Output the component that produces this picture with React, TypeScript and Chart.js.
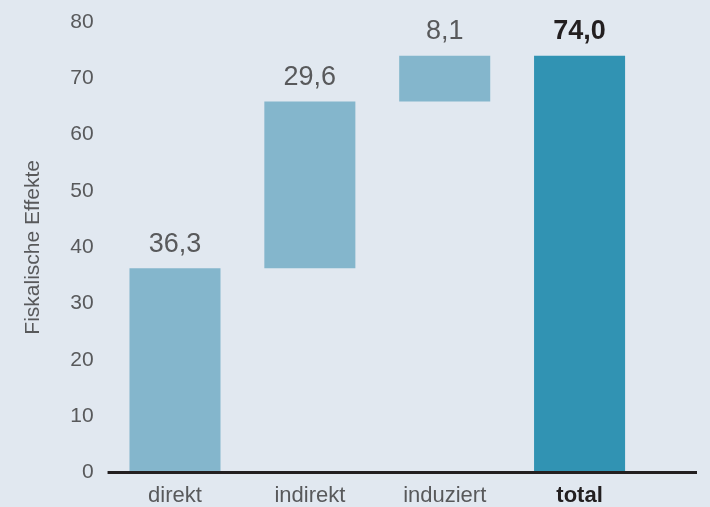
import React, { useEffect, useRef } from "react";
import { Chart, registerables } from "chart.js";

Chart.register(...registerables);

const categories = ["direkt", "indirekt", "induziert", "total"];
const starts = [0, 36.3, 65.9, 0];
const ends = [36.3, 65.9, 74.0, 74.0];
const valueLabels = ["36,3", "29,6", "8,1", "74,0"];
const yTicks = [0, 10, 20, 30, 40, 50, 60, 70, 80];

const FONT = "'Liberation Sans', Arial, Helvetica, sans-serif";

export default function App() {
  const ref = useRef<HTMLCanvasElement | null>(null);

  useEffect(() => {
    document.body.style.margin = "0";
    const canvas = ref.current;
    if (!canvas) return;

    const labelPlugin = {
      id: "valueLabels",
      afterDatasetsDraw(chart: any) {
        const { ctx } = chart;
        const meta = chart.getDatasetMeta(0);
        ctx.save();
        meta.data.forEach((bar: any, i: number) => {
          const isTotal = i === categories.length - 1;
          ctx.font = `${isTotal ? "bold " : ""}27px ${FONT}`;
          ctx.fillStyle = isTotal ? "#231f20" : "#58595b";
          ctx.textAlign = "center";
          ctx.textBaseline = "middle";
          const top = Math.min(bar.y, bar.base);
          ctx.fillText(valueLabels[i], bar.x, top - 24);
        });
        ctx.restore();
      },
    };

    const baselinePlugin = {
      id: "baseline",
      afterDraw(chart: any) {
        const { ctx, chartArea, scales } = chart;
        const y = scales.y.getPixelForValue(0);
        ctx.save();
        ctx.strokeStyle = "#231f20";
        ctx.lineWidth = 3;
        ctx.beginPath();
        ctx.moveTo(chartArea.left, y);
        ctx.lineTo(chartArea.right + 50, y);
        ctx.stroke();
        ctx.restore();
      },
    };

    const chart = new Chart(canvas, {
      type: "bar",
      data: {
        labels: categories,
        datasets: [
          {
            data: categories.map((_, i) => [starts[i], ends[i]]) as any,
            backgroundColor: categories.map((_, i) =>
              i === categories.length - 1 ? "#3193b3" : "#84b6cc"
            ),
            borderWidth: 0,
            barPercentage: 0.675,
            categoryPercentage: 1,
          },
        ],
      },
      options: {
        animation: false,
        responsive: false,
        layout: { padding: { top: 22, right: 63, left: 21, bottom: -12 } },
        plugins: {
          legend: { display: false },
          tooltip: { enabled: false },
        },
        scales: {
          x: {
            grid: { display: false, drawTicks: false },
            border: { display: false },
            ticks: {
              padding: 10,
              color: (c: any) => (c.index === 3 ? "#231f20" : "#58595b"),
              font: (c: any) => ({
                family: FONT,
                size: 22,
                weight: c.index === 3 ? "bold" : "normal",
              }),
            },
          },
          y: {
            min: 0,
            max: 80,
            afterBuildTicks: (axis: any) => {
              axis.ticks = yTicks.map((v) => ({ value: v }));
            },
            afterFit: (axis: any) => {
              axis.paddingTop = 0;
              axis.paddingBottom = 0;
            },
            grid: { display: false, drawTicks: false },
            border: { display: false },
            ticks: {
              padding: 14,
              color: "#58595b",
              font: { family: FONT, size: 21 },
            },
            title: {
              display: true,
              text: "Fiskalische Effekte",
              color: "#58595b",
              font: { family: FONT, size: 21 },
              padding: { top: 0, bottom: 10 },
            },
          },
        },
      },
      plugins: [labelPlugin, baselinePlugin],
    });

    return () => chart.destroy();
  }, []);

  return (
    <div
      style={{
        position: "fixed",
        left: 0,
        top: 0,
        width: 710,
        height: 507,
        background: "#e1e8f0",
      }}
    >
      <canvas ref={ref} width={710} height={507} style={{ display: "block" }} />
    </div>
  );
}
